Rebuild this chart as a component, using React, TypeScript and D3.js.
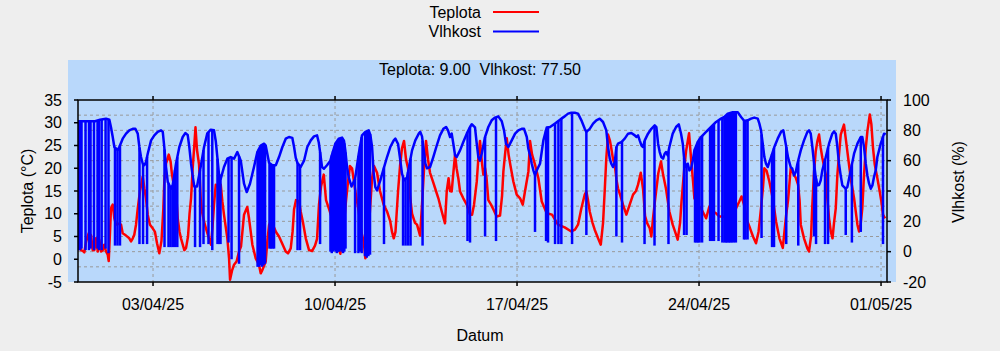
import React from 'react';
import * as d3 from 'd3';

// hours since 31/03/25 00:00 (UTC), value
const temperature: [number, number][] = [
  [2.8, 2.0], [4.0, 4.6], [5.5, 2.0], [7.4, 1.8], [8.6, 1.5], [10.2, 3.9], [12.6, 5.7], [14.8, 5.3], [16.3, 2.0], [17.8, 2.0],
  [19.4, 4.6], [21.0, 1.7], [22.4, 4.3], [24.0, 1.7], [25.6, 2.0], [27.0, 3.2], [28.6, 1.7], [30.2, 1.0], [31.1, -0.4], [32.3, 6.0],
  [33.2, 11.2], [34.8, 12.0], [36.3, 9.0], [37.8, 7.6], [40.2, 7.8], [42.5, 7.6], [44.0, 5.7], [47.1, 5.2], [50.1, 4.6], [51.7, 3.9],
  [53.3, 4.6], [54.7, 5.4], [56.3, 7.6], [57.9, 11.2], [60.0, 15.0], [62.5, 18.2], [64.0, 15.6], [65.5, 13.4], [67.1, 9.8], [69.2, 7.6],
  [71.7, 6.8], [73.8, 6.0], [75.7, 3.5], [77.8, 1.3], [79.8, 4.0], [81.5, 11.0], [82.4, 17.0], [84.0, 21.0], [86.5, 23.0], [88.2, 21.5],
  [89.5, 18.6], [91.4, 16.0], [93.2, 15.0], [94.8, 9.0], [96.5, 6.0], [97.8, 4.6], [100.9, 2.0], [102.5, 2.5], [104.3, 5.0], [105.7, 10.0],
  [107.1, 13.4], [108.6, 20.0], [110.1, 25.0], [111.2, 29.0], [112.6, 24.0], [114.5, 20.8], [116.0, 13.4], [117.2, 10.5], [119.1, 8.3], [121.8, 6.0],
  [123.7, 4.6], [125.5, 3.2], [126.9, 7.0], [128.3, 12.0], [129.9, 16.4], [132.0, 16.0], [134.5, 16.4], [136.0, 12.7], [137.5, 9.8], [140.6, 4.6],
  [142.2, 0.2], [143.1, -4.5], [144.9, -2.5], [146.8, -1.2], [149.1, -0.5], [151.4, 1.7], [153.2, 2.8], [156.0, 9.8], [157.8, 10.8], [159.0, 11.5],
  [160.6, 9.0], [162.2, 6.0], [163.7, 3.2], [166.8, 0.2], [169.8, -1.2], [171.4, -3.1], [172.9, -2.4], [176.0, -0.5], [177.5, 3.9], [179.1, 7.5],
  [180.6, 8.3], [182.8, 7.5], [185.5, 6.0], [188.3, 5.0], [191.1, 3.5], [194.5, 1.7], [196.6, 1.3], [199.1, 2.4], [200.8, 6.0], [202.2, 11.0],
  [204.0, 13.0], [206.8, 12.7], [208.3, 10.5], [210.5, 8.0], [213.0, 4.6], [216.0, 2.0], [218.8, 1.8], [221.5, 3.0], [223.4, 4.5], [225.2, 12.0],
  [227.1, 16.0], [229.6, 18.6], [231.7, 13.0], [234.5, 11.0], [237.2, 9.0], [240.0, 6.0], [242.8, 3.0], [244.9, 1.2], [246.5, 4.0], [248.3, 8.0],
  [250.2, 13.0], [252.0, 17.0], [253.8, 20.5], [255.7, 20.0], [257.5, 17.0], [259.4, 14.0], [261.9, 10.5], [264.3, 6.0], [266.5, 3.9], [268.0, 0.2],
  [270.0, 1.5], [272.3, 11.0], [274.2, 17.8], [276.0, 20.5], [278.8, 19.0], [281.5, 15.0], [284.9, 12.0], [288.0, 10.5], [291.0, 8.3], [292.6, 6.0],
  [294.2, 4.6], [295.8, 6.0], [298.2, 15.0], [300.0, 20.5], [301.8, 24.4], [303.7, 26.0], [305.5, 22.0], [307.4, 20.0], [309.2, 14.0], [311.1, 10.0],
  [313.8, 8.0], [315.7, 7.6], [318.5, 5.2], [320.3, 12.0], [322.2, 20.0], [324.0, 26.0], [325.8, 22.0], [327.7, 19.0], [330.5, 17.0], [333.2, 15.0],
  [335.4, 13.4], [338.5, 10.5], [341.5, 7.9], [343.1, 14.9], [344.8, 17.8], [346.2, 15.0], [347.7, 14.9], [349.4, 19.5], [350.8, 23.0], [352.2, 20.0],
  [353.8, 17.8], [355.4, 14.9], [358.4, 13.4], [361.6, 12.0], [364.6, 9.8], [366.5, 9.8], [368.3, 12.0], [370.8, 17.0], [372.3, 22.2], [373.8, 26.0],
  [375.7, 21.0], [376.9, 18.6], [378.5, 20.0], [379.8, 18.0], [381.5, 13.0], [384.0, 12.0], [386.1, 11.0], [389.2, 9.4], [392.3, 9.6], [394.2, 14.0],
  [395.4, 19.3], [396.9, 23.0], [398.5, 26.6], [400.2, 23.0], [402.0, 20.5], [404.6, 17.1], [407.7, 14.2], [410.8, 13.4], [413.3, 12.0], [415.4, 15.0],
  [418.5, 19.3], [420.0, 26.0], [421.9, 23.0], [424.6, 20.8], [427.7, 17.8], [430.8, 12.7], [435.4, 10.1], [440.3, 9.8], [445.8, 7.6], [452.0, 7.0],
  [458.1, 6.1], [461.5, 6.5], [464.3, 7.6], [467.4, 11.2], [470.5, 14.2], [472.0, 14.9], [473.5, 13.0], [475.1, 10.5], [477.7, 8.0], [479.7, 6.5],
  [482.8, 4.6], [485.3, 3.2], [487.4, 8.0], [488.9, 14.9], [490.4, 22.2], [492.0, 27.4], [493.8, 26.0], [495.0, 24.4], [496.6, 22.0], [498.2, 20.8],
  [499.8, 17.5], [501.2, 15.6], [503.1, 14.2], [505.8, 12.0], [508.9, 9.8], [512.0, 12.0], [515.1, 14.2], [517.8, 15.0], [519.7, 16.4], [522.2, 19.0],
  [524.3, 15.5], [526.2, 9.5], [528.0, 8.0], [530.5, 6.8], [532.0, 5.0], [533.5, 9.0], [535.4, 13.0], [538.4, 18.9], [540.9, 21.5], [542.8, 18.6],
  [545.5, 15.5], [548.6, 10.5], [551.7, 7.6], [554.8, 5.4], [556.3, 4.3], [558.5, 8.0], [559.8, 12.6], [562.4, 20.0], [564.0, 23.7], [565.6, 26.0],
  [566.8, 27.7], [568.0, 24.0], [569.1, 20.8], [570.5, 17.0], [571.7, 13.4], [574.8, 12.0], [577.8, 11.2], [582.5, 9.0], [585.5, 11.6], [588.9, 10.5],
  [591.7, 10.1], [594.8, 9.4], [598.2, 9.4], [600.9, 9.0], [604.2, 9.8], [607.1, 9.0], [610.2, 11.2], [613.2, 12.7], [615.2, 13.8], [617.5, 12.0],
  [620.3, 8.5], [623.1, 6.8], [625.8, 5.0], [628.6, 3.5], [630.9, 6.0], [633.2, 11.2], [635.1, 16.0], [636.3, 20.0], [638.3, 19.5], [640.9, 17.1],
  [644.0, 13.4], [647.1, 8.3], [650.2, 4.6], [653.3, 2.5], [656.3, 9.5], [658.2, 13.0], [660.6, 20.0], [662.8, 19.0], [665.5, 17.8], [667.4, 16.4],
  [668.8, 13.0], [669.9, 7.6], [672.9, 4.6], [676.0, 2.4], [677.5, 1.7], [679.4, 5.0], [680.6, 12.0], [682.2, 19.3], [683.7, 23.7], [685.2, 25.9],
  [686.8, 27.4], [688.3, 24.5], [689.8, 22.3], [693.0, 18.6], [694.4, 13.4], [696.0, 9.0], [697.6, 6.1], [699.2, 4.6], [700.6, 8.0], [702.2, 11.2],
  [703.7, 18.6], [705.2, 23.0], [706.8, 27.4], [709.8, 29.6], [711.7, 26.0], [712.9, 23.7], [716.0, 17.8], [719.1, 13.4], [722.2, 7.6], [723.7, 6.1],
  [725.3, 8.0], [726.7, 11.2], [728.3, 18.6], [729.9, 24.4], [731.4, 28.1], [733.6, 31.8], [735.1, 29.6], [736.6, 24.4], [738.2, 20.8], [740.6, 17.8],
  [742.8, 14.9], [744.3, 12.7], [745.8, 9.8], [747.7, 9.0],
];

const humidity: [number, number][] = [
  [2.8, 86], [9.2, 86], [18.5, 86], [23.1, 87], [28.6, 87.7], [31.7, 87], [33.2, 82], [34.8, 75.6], [36.3, 69], [37.8, 68],
  [39.4, 67], [40.9, 69], [44.0, 74.5], [47.1, 77.8], [50.1, 80], [53.3, 81], [55.7, 81], [57.9, 77.8], [59.4, 69], [60.9, 62.4],
  [62.5, 58], [64.0, 57], [65.5, 59], [67.1, 64.6], [70.2, 73.4], [73.2, 76.7], [76.3, 79], [79.4, 80], [81.0, 79], [82.4, 69],
  [84.0, 55.8], [85.6, 46], [88.6, 41.5], [90.2, 44], [93.2, 58], [96.3, 69], [99.4, 75.6], [101.8, 78.2], [104.0, 77], [105.5, 69],
  [107.1, 58], [108.6, 50], [110.1, 43], [112.6, 43], [116.0, 56], [119.1, 69], [122.1, 78], [125.3, 80.4], [128.3, 80], [129.9, 73],
  [131.4, 62], [132.9, 51], [134.5, 48], [137.5, 55.8], [140.6, 61.3], [143.7, 62.4], [146.8, 61.3], [149.8, 65.7], [153.0, 60], [156.0, 44.8],
  [158.5, 39.3], [161.5, 44.8], [165.2, 55.8], [168.3, 65.7], [171.4, 70], [174.5, 71.2], [176.0, 70], [179.1, 58.7], [182.1, 57], [185.3, 57],
  [188.3, 62.4], [191.4, 69], [194.5, 74.5], [197.5, 75.6], [200.6, 75], [202.2, 69], [203.7, 62], [205.2, 58.7], [208.3, 55.8], [211.4, 60],
  [214.4, 69], [217.6, 73.4], [220.6, 76], [223.4, 76.7], [225.0, 72], [226.4, 64.6], [228.0, 55.8], [229.8, 54.7], [232.6, 57], [235.7, 60],
  [237.2, 64], [240.3, 71.2], [243.4, 74.5], [246.5, 75.2], [248.3, 73], [249.5, 66.8], [251.1, 55.8], [252.6, 49], [255.2, 43], [258.5, 48],
  [261.9, 64.6], [264.9, 76.7], [268.0, 79], [271.1, 80], [272.6, 77], [274.2, 69], [275.7, 51.4], [277.2, 42.6], [278.8, 40.4], [281.8, 47],
  [284.9, 54.7], [288.0, 62.4], [291.0, 69], [294.2, 73.4], [295.7, 74.5], [298.2, 71], [300.3, 60], [301.8, 51.4], [303.7, 47], [306.5, 49],
  [308.3, 56], [311.1, 66.8], [314.1, 73.4], [317.3, 77.8], [318.7, 79], [320.3, 76], [321.9, 67], [323.4, 58], [324.9, 55], [327.7, 55.8],
  [330.7, 62.4], [333.9, 70], [336.9, 76.7], [340.0, 81], [342.5, 82.2], [344.3, 80], [346.2, 75.6], [347.7, 77.8], [349.2, 71.2], [350.8, 63.5],
  [352.3, 62.4], [355.4, 66.8], [358.4, 72.3], [361.6, 77.8], [364.6, 82.2], [366.2, 84], [369.2, 82], [370.8, 71.2], [372.3, 62.4], [373.8, 60],
  [375.4, 64.6], [378.5, 75.6], [381.5, 82.2], [384.6, 86.6], [387.7, 88.4], [390.7, 89.2], [393.9, 86], [396.0, 80], [397.8, 71.2], [400.0, 69],
  [403.1, 73.4], [406.2, 77.8], [409.2, 80], [412.3, 81], [414.5, 81], [417.0, 75.6], [418.4, 68], [420.0, 63.5], [421.6, 58], [423.1, 53.6],
  [424.6, 50.3], [426.2, 53.6], [427.7, 55.8], [429.2, 58], [432.3, 73.4], [435.4, 81.8], [438.5, 82.2], [442.8, 84.4], [445.8, 86], [448.9, 87.7],
  [452.0, 89.2], [455.1, 91], [458.1, 91.6], [461.3, 91.6], [464.3, 91], [467.4, 86.6], [470.5, 81], [472.0, 79], [475.1, 81], [478.2, 84.4],
  [481.2, 86.6], [484.3, 87.7], [487.4, 85.5], [490.4, 80], [492.0, 69], [493.6, 61.3], [495.0, 58], [496.6, 55.8], [498.2, 59], [499.7, 69],
  [501.2, 71.2], [504.3, 72.3], [507.4, 74.5], [510.5, 77.8], [513.5, 78.2], [516.7, 76.7], [518.1, 75.6], [519.7, 76.7], [521.2, 73.4], [522.9, 70],
  [524.3, 69], [525.9, 73.4], [528.9, 77.8], [532.0, 81], [535.1, 83.3], [536.6, 82.2], [538.2, 71.2], [539.7, 65.7], [541.2, 62.4], [542.8, 61.3],
  [544.3, 64.6], [545.5, 65.7], [547.1, 63.5], [548.6, 69], [551.7, 77.8], [554.8, 82.2], [557.3, 84], [559.4, 77.8], [561.0, 71.2], [562.4, 60],
  [564.0, 55.8], [565.6, 58], [567.1, 53.6], [568.6, 54.7], [570.2, 60], [571.7, 66.8], [574.8, 72.3], [577.8, 75.6], [582.5, 79], [587.1, 82.2],
  [591.7, 85.5], [596.3, 87.7], [599.4, 88.8], [602.5, 91], [607.1, 92], [611.7, 92], [614.8, 88.8], [617.8, 86.2], [620.9, 86.6], [624.0, 87.7],
  [627.0, 88.4], [630.2, 87.7], [631.7, 84.4], [633.2, 80], [634.8, 71.2], [636.3, 62.4], [637.8, 58], [639.4, 55.8], [640.9, 59], [642.5, 62.4],
  [645.5, 69], [648.6, 74.5], [651.7, 79], [653.8, 80], [656.0, 71.2], [658.2, 62], [660.6, 55.8], [662.1, 54.7], [663.7, 50.3], [665.3, 52.5],
  [666.8, 58], [669.9, 66.8], [672.9, 73.4], [676.0, 79], [677.5, 80], [679.1, 77.8], [680.6, 69], [682.2, 58], [683.7, 49.2], [685.2, 43.7],
  [686.8, 44], [688.3, 47], [689.8, 53.6], [693.0, 62.4], [696.0, 71.2], [699.0, 77.8], [700.6, 79.3], [702.2, 77.8], [703.7, 69], [705.2, 58],
  [706.8, 50], [708.3, 43.7], [711.4, 41.5], [712.9, 42.6], [716.0, 53.6], [719.1, 64.6], [722.2, 71.2], [725.3, 75.6], [726.7, 75.6], [728.3, 69],
  [729.9, 58], [731.4, 50.3], [732.9, 45], [734.5, 41.5], [736.0, 43.7], [737.5, 49.2], [739.1, 53.6], [740.6, 62.4], [743.7, 71.2], [746.8, 77.8],
  [748.4, 77.5],
];

// sensor drop-outs in the humidity record: hour, value read
const humidityDrops: [number, number][] = [
  [3.2, 1], [4.6, 1], [6.0, 2], [9.7, 1], [12.9, 1], [14.3, 2], [17.5, 1], [20.8, 2], [22.2, 1], [24.6, 1], [28.2, 2], [30.9, -1],
  [36.9, 4], [39.2, 4], [41.5, 4], [59.5, 5], [62.8, 5], [66.5, 5],
  [82.6, 3], [86.3, 3], [88.2, 3], [90.2, 3], [92.3, 3], [94.4, 3],
  [110.8, 3], [115.4, 3], [118.6, 5], [123.2, 5], [126.7, 1], [131.5, 5], [132.9, 5], [134.3, 5],
  [141.7, 6], [144.5, -5], [151.4, -8],
  [168.5, -10], [169.8, -10], [171.2, -9], [172.6, -10], [174.0, -9], [175.4, -8],
  [179.5, 2], [180.9, 2], [182.3, 2], [183.7, 2], [205.4, 1], [207.7, 1], [226.2, 5],
  [235.8, 0], [237.0, -1], [238.2, 0], [239.4, 1], [240.5, 0], [241.7, -1], [242.8, 0], [244.0, 0], [245.1, 1], [246.3, 0],
  [247.4, -1], [248.6, 0], [249.7, 2],
  [258.5, -1], [261.6, -1], [263.1, 0], [264.6, -1], [267.7, -3], [269.3, -4], [270.8, -3], [272.3, -2],
  [285.2, 5], [302.8, 4], [305.1, 4], [307.4, 4], [309.7, 4], [320.8, 4],
  [362.3, 7], [364.6, 6], [378.5, 10], [388.6, 7], [424.6, 13],
  [434.8, 7], [436.6, 6], [443.1, 5], [446.2, 5], [448.9, 5], [458.8, 5], [472.0, 11],
  [499.7, 10], [504.9, 6], [525.7, 5], [534.9, 4], [547.8, 5], [562.2, 11], [564.5, 11],
  [572.3, 6], [573.7, 6], [575.1, 6], [576.5, 6], [578.8, 6],
  [586.2, 7], [588.0, 7], [589.8, 7], [594.0, 7],
  [597.5, 6], [599.4, 6], [600.8, 6], [602.1, 6], [603.5, 6], [604.9, 6], [606.3, 6], [608.1, 6], [610.0, 6],
  [617.5, 8], [618.9, 8], [620.8, 8], [633.7, 9], [643.4, 3], [645.2, 3],
  [656.5, 5], [667.6, 4], [682.2, 10], [684.0, 5], [692.3, 5], [695.1, 5],
  [711.4, 11], [717.1, 6], [725.3, 13], [745.8, 5],
];

const dateTicks = ['2025-04-03', '2025-04-10', '2025-04-17', '2025-04-24', '2025-05-01'];
const timeRange = [2.75, 749.5];

const START = Date.UTC(2025, 2, 31);
const at = (h: number) => new Date(START + h * 3600e3);

const FONT = '"Liberation Sans", Arial, Helvetica, sans-serif';
const RED = '#ff0000';
const BLUE = '#0000ff';

export default function App() {
  const width = 1000;
  const height = 351;
  const plot = { left: 78, right: 887, top: 100, bottom: 282 };

  const x = d3.scaleUtc().domain(timeRange.map(at)).range([plot.left, plot.right]);
  const yT = d3.scaleLinear().domain([-5, 35]).range([plot.bottom, plot.top]);
  const yH = d3.scaleLinear().domain([-20, 100]).range([plot.bottom, plot.top]);

  const tempLine = d3.line<[number, number]>()
    .x((d) => x(at(d[0])))
    .y((d) => yT(d[1]));
  const humLine = d3.line<[number, number]>()
    .x((d) => x(at(d[0])))
    .y((d) => yH(d[1]));

  // humidity curve value at a given hour, to hang the drop-outs from
  const humAt = d3.scaleLinear()
    .domain(humidity.map((d) => d[0]))
    .range(humidity.map((d) => d[1]))
    .clamp(true);

  const fmt = d3.utcFormat('%d/%m/%y');
  const ticks = dateTicks.map((s) => new Date(s + 'T00:00:00Z'));
  const gridH = yH.ticks(12).filter((v) => v > -20 && v < 100);

  const lastT = temperature[temperature.length - 1][1];
  const lastH = humidity[humidity.length - 1][1];

  return (
    <div style={{ position: 'absolute', left: 0, top: 0 }}>
      <svg width={width} height={height} style={{ display: 'block', fontFamily: FONT }}>
        <defs>
          <clipPath id="plot-clip">
            <rect x={plot.left} y={plot.top} width={plot.right - plot.left} height={plot.bottom - plot.top} />
          </clipPath>
        </defs>
        <rect width={width} height={height} fill="#eeeeee" />

        {/* legend */}
        <g fontSize={16} fill="#000">
          <text x={481} y={12} dy="0.35em" textAnchor="end">Teplota</text>
          <line x1={493} x2={539} y1={12} y2={12} stroke={RED} strokeWidth={2} />
          <text x={481} y={31.5} dy="0.35em" textAnchor="end">Vlhkost</text>
          <line x1={493} x2={539} y1={31.5} y2={31.5} stroke={BLUE} strokeWidth={2} />
        </g>

        {/* panel */}
        <rect x={68} y={60} width={828} height={plot.bottom - 60} fill="#b9d8fb" />
        <text x={480} y={69} dy="0.35em" textAnchor="middle" fontSize={16} style={{ whiteSpace: 'pre' }}>
          {`Teplota: ${lastT.toFixed(2)}  Vlhkost: ${lastH.toFixed(2)}`}
        </text>

        {/* grid */}
        <g stroke="#999999" strokeWidth={1} strokeDasharray="3,3">
          {gridH.map((v) => (
            <line key={'h' + v} x1={plot.left} x2={plot.right} y1={yH(v)} y2={yH(v)} />
          ))}
          {ticks.map((t, i) => (
            <line key={'v' + i} x1={x(t)} x2={x(t)} y1={plot.top} y2={plot.bottom} />
          ))}
        </g>

        {/* data */}
        <g clipPath="url(#plot-clip)" fill="none" strokeLinejoin="round">
          <path d={tempLine(temperature) || ''} stroke={RED} strokeWidth={2.5} />
          <path d={humLine(humidity) || ''} stroke={BLUE} strokeWidth={2.5} />
          {humidityDrops.map((d, i) => (
            <line
              key={i}
              x1={x(at(d[0]))}
              x2={x(at(d[0]))}
              y1={yH(humAt(d[0]))}
              y2={yH(d[1])}
              stroke={BLUE}
              strokeWidth={2.5}
            />
          ))}
        </g>

        {/* frame */}
        <rect
          x={plot.left}
          y={plot.top}
          width={plot.right - plot.left}
          height={plot.bottom - plot.top}
          fill="none"
          stroke="#000"
          strokeWidth={1.5}
        />

        {/* axes */}
        <g fontSize={16} fill="#000">
          {yT.ticks(8).map((v) => (
            <g key={'l' + v}>
              <line x1={plot.left - 4} x2={plot.left} y1={yT(v)} y2={yT(v)} stroke="#000" strokeWidth={1.5} />
              <text x={62} y={yT(v)} dy="0.35em" textAnchor="end">{v}</text>
            </g>
          ))}
          {yH.ticks(6).map((v) => (
            <g key={'r' + v}>
              <line x1={plot.right} x2={plot.right + 4} y1={yH(v)} y2={yH(v)} stroke="#000" strokeWidth={1.5} />
              <text x={903} y={yH(v)} dy="0.35em" textAnchor="start">{v}</text>
            </g>
          ))}
          {ticks.map((t, i) => (
            <g key={'b' + i}>
              <line x1={x(t)} x2={x(t)} y1={plot.bottom} y2={plot.bottom + 4} stroke="#000" strokeWidth={1.5} />
              <line x1={x(t)} x2={x(t)} y1={plot.top - 4} y2={plot.top} stroke="#000" strokeWidth={1.5} />
              <text x={x(t)} y={304} dy="0.35em" textAnchor="middle">{fmt(t)}</text>
            </g>
          ))}
          <text x={480} y={335} dy="0.35em" textAnchor="middle">Datum</text>
          <text transform="translate(27,191) rotate(-90)" dy="0.35em" textAnchor="middle">Teplota (°C)</text>
          <text transform="translate(958,182) rotate(-90)" dy="0.35em" textAnchor="middle">Vlhkost (%)</text>
        </g>
      </svg>
    </div>
  );
}
